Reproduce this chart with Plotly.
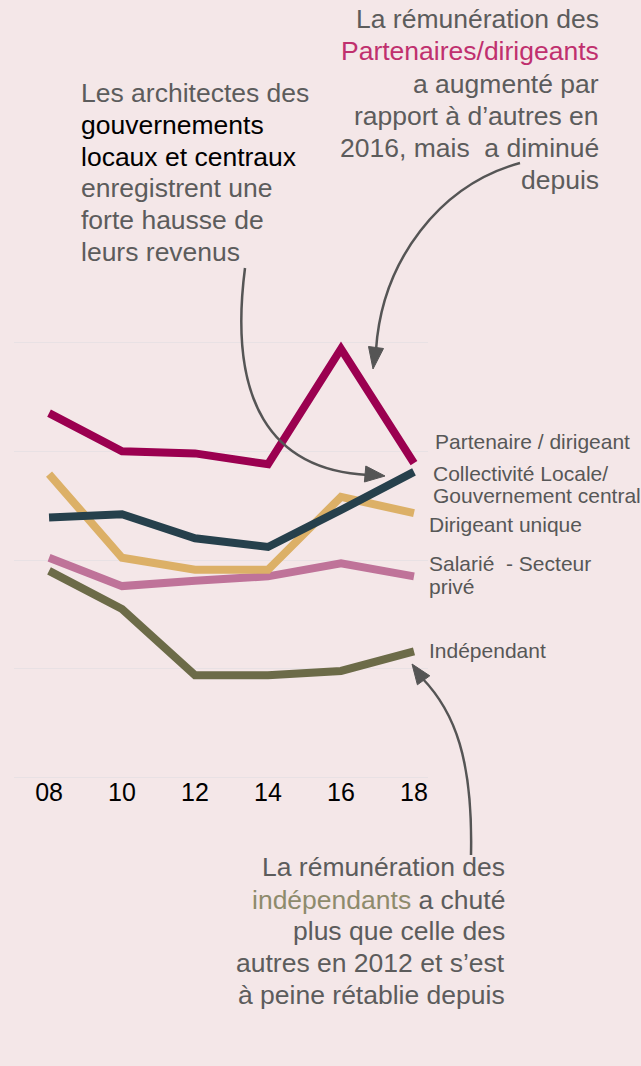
import plotly.graph_objects as go

# ---- data (arbitrary index units) ----
years = [2008, 2010, 2012, 2014, 2016, 2018]
tick_vals = [2008, 2010, 2012, 2014, 2016, 2018]
tick_text = ["08", "10", "12", "14", "16", "18"]

partenaire = [33.5, 30.0, 29.8, 28.8, 39.4, 28.9]
collectivite = [23.9, 24.2, 22.0, 21.2, 24.6, 28.1]
dirigeant_unique = [27.9, 20.2, 19.1, 19.1, 25.8, 24.3]
salarie = [20.2, 17.6, 18.1, 18.5, 19.7, 18.5]
independant = [19.0, 15.5, 9.4, 9.4, 9.8, 11.6]

series_names = ["Partenaire / dirigeant", "Collectivité Locale/Gouvernement central",
                "Dirigeant unique", "Salarié - Secteur privé", "Indépendant"]
series_values = [partenaire, collectivite, dirigeant_unique, salarie, independant]
series_colors = ["#9b0050", "#26404c", "#dcb067", "#bf7399", "#6c6b48"]

# ---- layout geometry ----
W, H = 641, 1066
ML, MR, MT, MB = 14, 213, 337, 283
PW, PH = W - ML - MR, H - MT - MB

BG = "#f4e7e8"
GREY = "#5c5c5c"
FONT = "Liberation Sans, Arial, sans-serif"


def px(x):
    return (x - ML) / PW


def py(y):
    return (H - MB - y) / PH


fig = go.Figure()
draw_order = [4, 3, 2, 1, 0]
for i in draw_order:
    fig.add_trace(go.Scatter(
        x=years, y=series_values[i], mode="lines", name=series_names[i],
        line=dict(color=series_colors[i], width=8), hoverinfo="skip",
    ))

annotations = []


def txt(text, x, y, size=26.5, color=GREY, xanchor="left"):
    annotations.append(dict(
        text=text, x=px(x), y=py(y), xref="paper", yref="paper",
        xanchor=xanchor, yanchor="middle", showarrow=False,
        font=dict(family=FONT, size=size, color=color), align=xanchor,
    ))


# left annotation
left_lines = [
    ("Les architectes des", GREY, 93),
    ("gouvernements", "#000000", 125),
    ("locaux et centraux", "#000000", 157),
    ("enregistrent une", GREY, 188),
    ("forte hausse de", GREY, 220),
    ("leurs revenus", GREY, 252),
]
for t, c, y in left_lines:
    txt(t, 79, y, color=c)

# top-right annotation
tr_lines = [
    ("La rémunération des", GREY, 19),
    ("Partenaires/dirigeants", "#c0306e", 51),
    ("a augmenté par", GREY, 84),
    ("rapport à d’autres en", GREY, 116),
    ("2016, mais&nbsp; a diminué", GREY, 148),
    ("depuis", GREY, 180),
]
for t, c, y in tr_lines:
    txt(t, 601, y, color=c, xanchor="right")

# bottom annotation
bt_lines = [
    ("La rémunération des", 867),
    ("<span style='color:#8e8b6c'>indépendants</span> a chuté", 900),
    ("plus que celle des", 931),
    ("autres en 2012 et s’est", 963),
    ("à peine rétablie depuis", 995),
]
for t, y in bt_lines:
    txt(t, 507, y, xanchor="right")

# series labels
lab = [
    ("Partenaire / dirigeant", 433, 441),
    ("Collectivité Locale/", 431, 473),
    ("Gouvernement central", 431, 495),
    ("Dirigeant unique", 427, 524),
    ("Salarié&nbsp; - Secteur", 427, 563),
    ("privé", 427, 586),
    ("Indépendant", 427, 650),
]
for t, x, y in lab:
    txt(t, x, y, size=21, color="#575757")

# arrows (curves + heads), pixel coords converted to paper
ARROW = "#555555"


def curve(p0, p1, p2, p3):
    return ("M {} {} C {} {}, {} {}, {} {}".format(
        px(p0[0]), py(p0[1]), px(p1[0]), py(p1[1]),
        px(p2[0]), py(p2[1]), px(p3[0]), py(p3[1])))


def head(tip, b1, b2):
    return "M {} {} L {} {} L {} {} Z".format(
        px(tip[0]), py(tip[1]), px(b1[0]), py(b1[1]), px(b2[0]), py(b2[1]))


shapes = []
curves = [
    ((245, 268), (228, 400), (270, 470), (368, 475)),
    ((520, 163), (440, 185), (382, 260), (376, 350)),
    ((471, 855), (473, 760), (455, 712), (422, 678)),
]
heads = [
    ((385, 476), (364.4, 482.0), (365.8, 466.0)),
    ((373, 369), (383.5, 348.5), (368.5, 346.5)),
    ((412, 664), (429.8, 675.8), (417.4, 684.8)),
]
for c in curves:
    shapes.append(dict(type="path", path=curve(*c), xref="paper", yref="paper",
                       line=dict(color=ARROW, width=2.5)))
for h in heads:
    shapes.append(dict(type="path", path=head(*h), xref="paper", yref="paper",
                       line=dict(color=ARROW, width=1), fillcolor=ARROW))

fig.update_layout(
    width=W, height=H,
    margin=dict(l=ML, r=MR, t=MT, b=MB, pad=0),
    paper_bgcolor=BG, plot_bgcolor=BG,
    showlegend=False,
    annotations=annotations, shapes=shapes,
    font=dict(family=FONT),
    xaxis=dict(range=[2007.04, 2018.384], tickvals=tick_vals, ticktext=tick_text,
               showgrid=False, zeroline=False, showline=False, ticks="",
               ticklabelstandoff=-8,
               tickfont=dict(family=FONT, size=25, color="#000000"), fixedrange=True),
    yaxis=dict(range=[-0.5, 40.5], tickvals=[0, 10, 20, 30, 40], showticklabels=False,
               showgrid=True, gridcolor="#e8e1e4", gridwidth=1, zeroline=False,
               showline=False, ticks="", fixedrange=True),
)

fig.write_html(
    "out.html",
    config={"displayModeBar": False},
    post_script="document.body.style.margin='0';document.body.style.overflow='hidden';",
)
